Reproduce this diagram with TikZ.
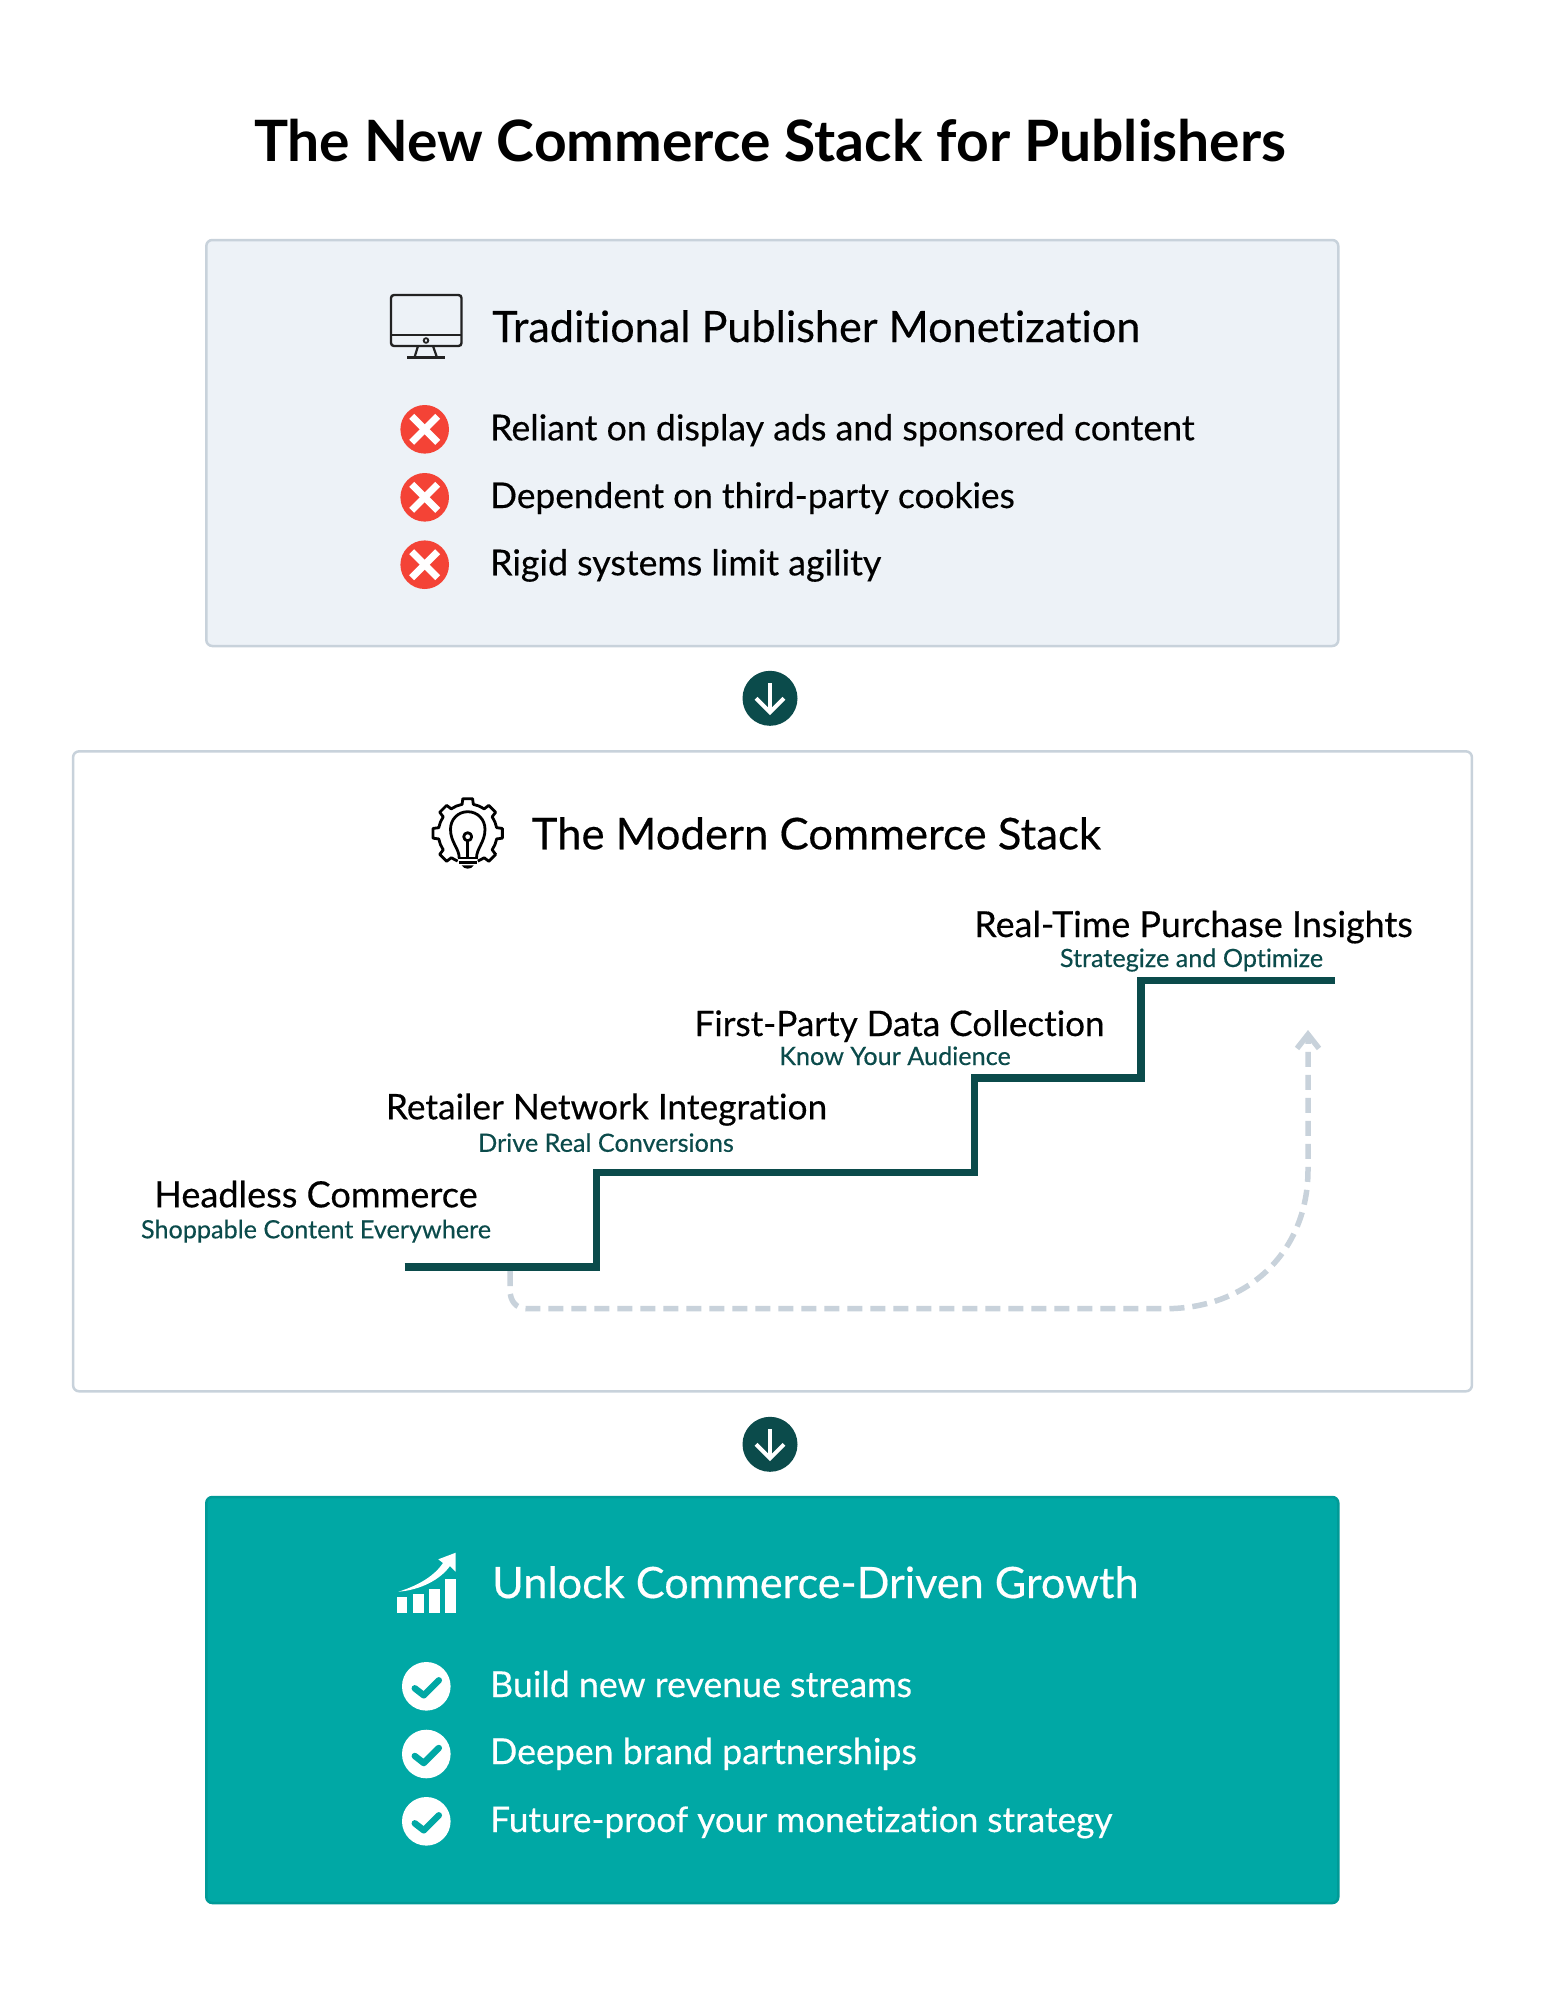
\documentclass[tikz,border=0pt]{standalone}
\usepackage{fontspec}
\setmainfont[Ligatures = NoCommon]{Lato}
\newfontfamily\medfont[Ligatures = NoCommon, FakeBold = 0.35]{Lato}
\usetikzlibrary{arrows.meta}
\definecolor{rulegrey}{HTML}{C8D2DB}
\definecolor{palegrey}{HTML}{EDF2F7}
\definecolor{teal}{HTML}{00A8A5}
\definecolor{tealedge}{HTML}{009A97}
\definecolor{darkteal}{HTML}{0B4B4B}
\definecolor{crossred}{HTML}{F44336}
\definecolor{inkblack}{HTML}{222222}

\begin{document}
\begin{tikzpicture}[x = 1pt, y = -1pt]
    \tikzstyle{panel} = [draw = rulegrey, line width = 2.5pt, rounded corners = 6pt, minimum width = 1132pt, minimum height = 406pt];
    \tikzstyle{title} = [inner sep = 0, anchor = base, font = \fontsize{57}{64}\bfseries\selectfont];
    \tikzstyle{heading} = [inner sep = 0, anchor = base west, font = \fontsize{43.2}{50}\medfont];
    \tikzstyle{bullet} = [inner sep = 0, anchor = base west, font = \fontsize{35.7}{42}\medfont];
    \tikzstyle{steplabel} = [inner sep = 0, anchor = base, font = \fontsize{35.3}{42}\medfont];
    \tikzstyle{stepnote} = [inner sep = 0, anchor = base, text = darkteal, font = \fontsize{25.2}{30}\medfont];
    \tikzstyle{dot} = [circle, inner sep = 0, minimum size = 48.6pt];
    \tikzstyle{crossdot} = [dot, fill = crossred, path picture = {
        \draw[white, line width = 7pt] (path picture bounding box.center) ++(-13,-13) -- ++(26,26);
        \draw[white, line width = 7pt] (path picture bounding box.center) ++(13,-13) -- ++(-26,26);}];
    \tikzstyle{tickdot} = [dot, fill = white, path picture = {
        \draw[teal, line width = 6.5pt, line cap = round, line join = round] (path picture bounding box.center) ++(-11.5,2) -- ++(9,7) -- ++(15,-15);}];
    \tikzstyle{downdot} = [circle, inner sep = 0, minimum size = 55pt, fill = darkteal, path picture = {
        \draw[white, line width = 4pt] (path picture bounding box.center) ++(0,-15) -- ++(0,29);
        \draw[white, line width = 4pt] (path picture bounding box.center) ++(-14,0) -- ++(14,14) -- ++(14,-14);}];
    \useasboundingbox (0,0) rectangle (1545,2000);
    \node (title) at (770,161.5) [title] {The New Commerce Stack for Publishers};
    % panels:
    \node (old) at (772.3,443) [panel, fill = palegrey] {};
    \node (stack) at (772.5,1071.3) [panel, fill = white, minimum width = 1398.8pt, minimum height = 640pt] {};
    \node (growth) at (772.3,1700) [panel, fill = teal, draw = tealedge] {};
    \node (down1) at (770,698.3) [downdot] {};
    \node (down2) at (770,1444.3) [downdot] {};
    % monitor:
    \draw[inkblack, line width = 2.4pt, rounded corners = 3pt] (391,295) rectangle (461.5,346);
    \draw[inkblack, line width = 2.4pt] (391,335) -- (461.5,335);
    \draw[inkblack, line width = 1.8pt] (426,340.5) circle (2.3);
    \draw[inkblack, line width = 2.2pt] (418,346) -- (414.5,357.5);
    \draw[inkblack, line width = 2.2pt] (433,346) -- (437,357.5);
    \draw[inkblack, line width = 2.2pt] (407,357.5) -- (445,357.5);
    \node (oldhead) at (492,342) [heading] {Traditional Publisher Monetization};
    \node (x1) at (424.7,429.3) [crossdot] {};
    \node (x2) at (424.7,497.3) [crossdot] {};
    \node (x3) at (424.7,564.7) [crossdot] {};
    \node (old1) at (490,440.3) [bullet] {Reliant on display ads and sponsored content};
    \node (old2) at (490,508) [bullet, font = \fontsize{35.3}{42}\medfont] {Dependent on third-party cookies};
    \node (old3) at (490,575.3) [bullet] {Rigid systems limit agility};
    % gear and bulb:
    \begin{scope}[shift = {(467.7,833.3)}, line width = 2.8pt, line join = round]
        \draw (110:29.5)
            \foreach \a in {135,180,225,270,315,360,405} {
                -- (\a-11:29.5) -- (\a-8:35) -- (\a+8:35) -- (\a+11:29.5) -- (\a+22.5:29.5)
            } -- (70:29.5);
        \draw (-8.5,24.7) .. controls (-8.5,15) and (-17.2,9) .. (-17.2,-4)
            .. controls (-17.2,-14) and (-9.7,-21.6) .. (0,-21.6)
            .. controls (9.8,-21.6) and (17.3,-14) .. (17.3,-4)
            .. controls (17.3,9) and (8.8,15) .. (8.8,24.7);
        \draw (0,3.4) circle (4);
        \draw (0,7.4) -- (0,24.7);
        \draw (-10,24.7) -- (10,24.7);
        \draw (-9,29.5) -- (9,29.5);
        \fill (-6,32) .. controls (-4,36.5) and (4,36.5) .. (6,32) -- cycle;
    \end{scope}
    \node (stackhead) at (531.5,849.3) [heading, font = \fontsize{43.7}{50}\medfont] {The Modern Commerce Stack};
    % steps:
    \coordinate (s0) at (404.5,1267);
    \coordinate (s1) at (596.5,1267);
    \coordinate (s2) at (596.5,1172.5);
    \coordinate (s3) at (974.5,1172.5);
    \coordinate (s4) at (974.5,1078);
    \coordinate (s5) at (1141,1078);
    \coordinate (s6) at (1141,980.5);
    \coordinate (s7) at (1335,980.5);
    \draw[darkteal, line width = 7.5pt] (s0) -- (s1) -- (s2) -- (s3) -- (s4) -- (s5) -- (s6) -- (s7);
    \coordinate (d0) at (510,1271);
    \coordinate (d1) at (510,1290);
    \coordinate (d2) at (527,1308.7);
    \coordinate (d3) at (1165,1308.7);
    \coordinate (d4) at (1308,1170);
    \coordinate (d5) at (1308,1030);
    \draw[rulegrey, line width = 5.5pt, dash pattern = on 15pt off 8pt, -{Straight Barb[length = 14pt, width = 22pt]}]
        (d0) -- (d1) .. controls (510,1301) and (516,1308.7) .. (d2) -- (d3)
        .. controls (1250,1308.7) and (1308,1250) .. (d4) -- (d5);
    \node (lab1) at (316,1207.3) [steplabel, font = \fontsize{36.1}{42}\medfont] {Headless Commerce};
    \node (note1) at (316,1238.3) [stepnote] {Shoppable Content Everywhere};
    \node (lab2) at (606.5,1119.3) [steplabel] {Retailer Network Integration};
    \node (note2) at (606,1151.8) [stepnote] {Drive Real Conversions};
    \node (lab3) at (899.5,1036) [steplabel, font = \fontsize{35.1}{42}\medfont] {First-Party Data Collection};
    \node (note3) at (895,1065) [stepnote] {Know Your Audience};
    \node (lab4) at (1193.5,937) [steplabel, font = \fontsize{35.9}{42}\medfont] {Real-Time Purchase Insights};
    \node (note4) at (1191.5,967) [stepnote] {Strategize and Optimize};
    % chart:
    \fill[white] (397.3,1597.3) rectangle (407.3,1612.7);
    \fill[white] (413,1594.3) rectangle (423.7,1612.7);
    \fill[white] (429,1589) rectangle (439.7,1612.7);
    \fill[white] (445.3,1579.3) rectangle (455.7,1612.7);
    \fill[white] (398.3,1591.7) .. controls (420,1585) and (435,1575) .. (443,1563) -- (438.3,1559.3)
        -- (455.7,1552.7) -- (455.7,1571.7) -- (450,1566) .. controls (440,1580) and (420,1590) .. cycle;
    \node (growthhead) at (492,1598) [heading, text = white] {Unlock Commerce-Driven Growth};
    \node (t1) at (426.3,1686.3) [tickdot] {};
    \node (t2) at (426.3,1754) [tickdot] {};
    \node (t3) at (426.3,1821.3) [tickdot] {};
    \node (new1) at (490,1697) [bullet, text = white] {Build new revenue streams};
    \node (new2) at (490,1764) [bullet, text = white] {Deepen brand partnerships};
    \node (new3) at (490,1832) [bullet, text = white, font = \fontsize{35.2}{42}\medfont] {Future-proof your monetization strategy};
  \end{tikzpicture}
\end{document}
